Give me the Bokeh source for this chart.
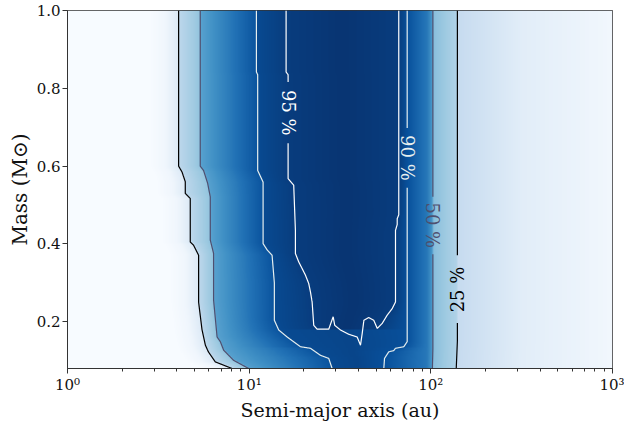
import numpy as np
from bokeh.plotting import figure
from bokeh.models import FixedTicker, LinearColorMapper, ColumnDataSource
from bokeh.palettes import Blues256
from bokeh.embed import file_html
from bokeh.resources import INLINE
from bokeh.core.properties import value

# ---------------- data ----------------
# contour paths: semi-major axis (au) and mass (Msun)
c25_left_a = [4.09, 4.09, 4.27, 4.45, 4.45, 4.74, 4.74, 4.94, 5.27, 5.27, 5.50, 5.74, 5.96, 6.51, 8.05]
c25_left_m = [1.0, 0.60, 0.585, 0.56, 0.53, 0.517, 0.405, 0.397, 0.371, 0.25, 0.18, 0.14, 0.123, 0.097, 0.08]
c25_right_a = [140.0, 140.0, 138.0]
c25_right_m = [1.0, 0.15, 0.08]

c50_left_a = [5.38, 5.38, 5.61, 5.91, 6.11, 6.11, 6.37, 6.37, 6.66, 6.94, 7.24, 8.21, 9.94]
c50_left_m = [1.0, 0.60, 0.589, 0.556, 0.521, 0.41, 0.376, 0.256, 0.161, 0.149, 0.127, 0.101, 0.08]
c50_right_a = [102.6, 102.6, 102.0]
c50_right_m = [1.0, 0.13, 0.08]

c90_left_a = [10.96, 10.96, 11.14, 11.14, 11.93, 11.93, 12.55, 13.37, 13.76, 13.76, 14.54, 16.18, 19.15, 21.73, 24.67, 27.41, 28.62]
c90_left_m = [1.0, 0.842, 0.835, 0.589, 0.559, 0.401, 0.385, 0.371, 0.30, 0.204, 0.179, 0.161, 0.136, 0.132, 0.114, 0.106, 0.08]
c90_right_a = [55.1, 55.6, 58.7, 62.5, 63.9, 71.0, 74.1, 74.1]
c90_right_m = [0.08, 0.106, 0.123, 0.126, 0.132, 0.136, 0.149, 1.0]

c95_left_a = [15.97, 15.97, 16.38, 16.38, 17.59, 17.97, 17.97, 18.74, 19.56, 20.40, 21.27, 21.74, 22.21, 22.67, 23.67]
c95_left_m = [1.0, 0.842, 0.835, 0.568, 0.551, 0.435, 0.3755, 0.354, 0.337, 0.320, 0.2985, 0.277, 0.251, 0.191, 0.181]
c95_bottom_a = [27.42, 29.0, 29.58, 31.8, 35.33, 39.3, 41.0, 41.9, 42.8, 45.5, 48.5]
c95_bottom_m = [0.181, 0.213, 0.191, 0.179, 0.168, 0.161, 0.140, 0.170, 0.204, 0.211, 0.204]
c95_right_a = [50.7, 54.0, 57.5, 61.3, 63.9, 63.9, 65.3, 65.3, 66.6, 66.6]
c95_right_m = [0.183, 0.196, 0.217, 0.234, 0.251, 0.435, 0.45, 0.465, 0.475, 1.0]

# contour labels
label_text = ["95 %", "90 %", "50 %", "25 %"]
label_a = [16.38, 74.1, 102.6, 140.0]
label_m = [0.737, 0.621, 0.448, 0.283]
label_half = [0.078, 0.076, 0.072, 0.084]
label_angle_deg = [-90, -90, -90, 90]
level_colors = {"25": "#000000", "50": "#4f4f6f", "90": "#e6efef", "95": "#ffffff"}

# probability values assigned across each contour (image shading)
p_left = [0.0, 0.0, 0.04, 0.13, 0.28, 0.40, 0.56, 0.86, 0.90]
p_core = [0.95, 0.98, 0.95]
p_core_open = [0.92]
p_right = [0.88, 0.72, 0.60, 0.43, 0.32, 0.25, 0.11, 0.03]

x_ticks = [1, 10, 100, 1000]
x_tick_labels = ["10⁰", "10¹", "10²", "10³"]
y_ticks = [0.2, 0.4, 0.6, 0.8, 1.0]
y_tick_labels = ["0.2", "0.4", "0.6", "0.8", "1.0"]

# ---------------- build the shaded image ----------------
def path_at(m, pm, pa):
    pm = np.asarray(pm, float)
    pl = np.log10(np.asarray(pa, float))
    order = np.argsort(pm, kind="stable")
    return float(np.interp(m, pm[order], pl[order]))

NX, NY = 545, 184
lx = (np.arange(NX) + 0.5) * 3.0 / NX
my = 0.08 + (np.arange(NY) + 0.5) * 0.92 / NY
z = np.zeros((NY, NX))
m95_min = min(c95_left_m[-1], c95_right_m[0])
for j, m in enumerate(my):
    L25 = path_at(m, c25_left_m, c25_left_a)
    L50 = path_at(m, c50_left_m, c50_left_a)
    L90 = path_at(m, c90_left_m, c90_left_a)
    R90 = path_at(m, c90_right_m, c90_right_a)
    R50 = path_at(m, c50_right_m, c50_right_a)
    R25 = path_at(m, c25_right_m, c25_right_a)
    xs = [0.0, L25 - 0.155, L25 - 0.07, L25 - 0.004, L25 + 0.004,
          L50 - 0.004, L50 + 0.004, L90 - 0.004, L90]
    ps = list(p_left)
    if m >= m95_min:
        L95 = path_at(m, c95_left_m, c95_left_a)
        R95 = path_at(m, c95_right_m, c95_right_a)
        xs += [L95, 0.5 * (L95 + R95), R95]
        ps += p_core
    else:
        xs += [0.5 * (L90 + R90)]
        ps += p_core_open
    xs += [R90, R50 - 0.03, R50 - 0.003, R50 + 0.003, R25 - 0.003, R25 + 0.003, R25 + 0.35, 3.0]
    ps += p_right
    z[j] = np.interp(lx, xs, ps)

pal = list(Blues256)
if pal[0].lower() == "#08306b":
    pal = pal[::-1]
cmap = LinearColorMapper(palette=pal, low=0.0, high=1.0)

# ---------------- figure ----------------
FONT = "DejaVu Serif"
p = figure(width=624, height=423, x_axis_type="log", x_range=(1, 1000), y_range=(0.08, 1.0),
           output_backend="svg", toolbar_location=None,
           min_border_left=67, min_border_right=12, min_border_top=10, min_border_bottom=55)
p.image(image=[z], x=1, y=0.08, dw=999, dh=0.92, color_mapper=cmap)

def dense(a_list, m_list, n=200):
    la = np.log10(np.asarray(a_list, float))
    mm = np.asarray(m_list, float)
    X, Y = [la[0]], [mm[0]]
    t = np.linspace(0, 1, n + 1)[1:]
    for i in range(1, len(la)):
        X.extend(la[i - 1] + t * (la[i] - la[i - 1]))
        Y.extend(mm[i - 1] + t * (mm[i] - mm[i - 1]))
    return np.array(X), np.array(Y)

def draw(a_list, m_list, color, label_index=None):
    X, Y = dense(a_list, m_list)
    A = 10 ** X
    if label_index is not None:
        i = label_index
        lo, hi = label_m[i] - label_half[i], label_m[i] + label_half[i]
        near = np.abs(X - np.log10(label_a[i])) < 0.04
        A = np.where((Y > lo) & (Y < hi) & near, np.nan, A)
    p.line(A, Y, line_color=color, line_width=1.2)

draw(c25_left_a, c25_left_m, level_colors["25"])
draw(c25_right_a, c25_right_m, level_colors["25"], 3)
draw(c50_left_a, c50_left_m, level_colors["50"])
draw(c50_right_a, c50_right_m, level_colors["50"], 2)
draw(c90_left_a, c90_left_m, level_colors["90"])
draw(c90_right_a, c90_right_m, level_colors["90"], 1)
draw(c95_left_a + c95_bottom_a + c95_right_a, c95_left_m + c95_bottom_m + c95_right_m,
     level_colors["95"], 0)

src = ColumnDataSource(dict(x=label_a, y=label_m, text=label_text,
                            angle=[float(np.deg2rad(d)) for d in label_angle_deg],
                            color=[level_colors["95"], level_colors["90"], level_colors["50"], level_colors["25"]]))
p.text(x="x", y="y", text="text", angle="angle", text_color="color", source=src,
       text_font=value(FONT), text_font_size=value("18px"),
       text_align="center", text_baseline="middle")

p.grid.visible = False
p.outline_line_color = "#333333"
p.outline_line_width = 1
p.background_fill_color = "white"

p.xaxis.ticker = FixedTicker(ticks=x_ticks,
                             minor_ticks=[k * d for d in (1, 10, 100) for k in range(2, 10)])
p.xaxis.major_label_overrides = {t: l for t, l in zip(x_ticks, x_tick_labels)}
p.yaxis.ticker = FixedTicker(ticks=y_ticks)
p.yaxis.major_label_overrides = {t: l for t, l in zip(y_ticks, y_tick_labels)}

for ax in (p.xaxis, p.yaxis):
    ax.axis_line_color = "#333333"
    ax.major_tick_line_color = "#333333"
    ax.major_tick_in = 0
    ax.major_tick_out = 5
    ax.minor_tick_in = 0
    ax.minor_tick_out = 3
    ax.major_label_text_font = FONT
    ax.major_label_text_font_size = "15px"
    ax.major_label_text_color = "#111111"
    ax.major_label_standoff = 2
    ax.axis_label_text_font = FONT
    ax.axis_label_text_font_style = "normal"
    ax.axis_label_text_color = "#111111"
    ax.axis_label_standoff = 2
p.xaxis.axis_label_text_font_size = "19px"
p.yaxis.axis_label_text_font_size = "20px"
p.xaxis.minor_tick_line_color = "#333333"
p.yaxis.minor_tick_line_color = None

p.xaxis.axis_label = "Semi-major axis (au)"
p.yaxis.axis_label = "Mass (M⊙)"

open("out.html", "w").write(file_html(p, INLINE))
